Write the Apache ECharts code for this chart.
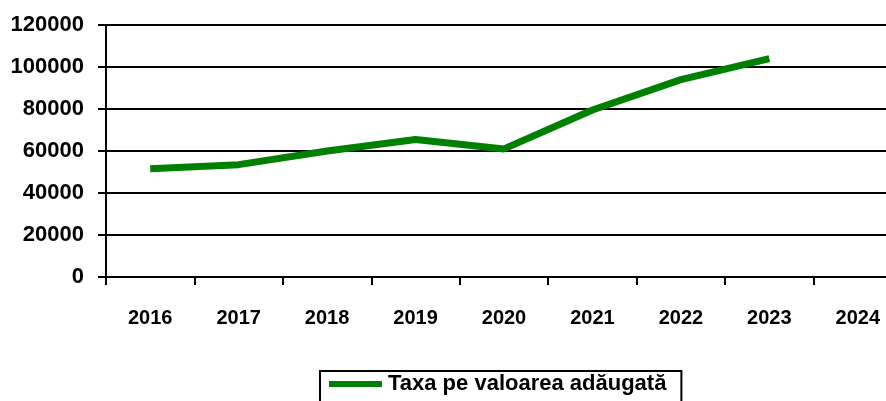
<!DOCTYPE html>
<html>
<head>
<meta charset="utf-8">
<script src="https://cdn.jsdelivr.net/npm/echarts@6/dist/echarts.min.js"></script>
<style>html,body{margin:0;padding:0;background:#fff;overflow:hidden;width:886px;height:401px;}#c{width:902px;height:401px;}</style>
</head>
<body>
<div id="c"></div>
<script>
var categories = ['2016','2017','2018','2019','2020','2021','2022','2023','2024'];
var seriesName = 'Taxa pe valoarea adăugată';
var tvaValues = [51500, 53500, 60000, 65500, 61000, 79500, 94000, 104000, null];
var yMin = 0, yMax = 120000, yStep = 20000;

var chart = echarts.init(document.getElementById('c'), null, {renderer: 'canvas'});
chart.setOption({
  animation: false,
  backgroundColor: '#fff',
  grid: {left: 106, top: 25, right: 0, bottom: 124, containLabel: false},
  xAxis: {
    type: 'category',
    data: categories,
    boundaryGap: true,
    axisLine: {lineStyle: {color: '#000', width: 2}},
    axisTick: {show: true, length: 8, lineStyle: {color: '#000', width: 2}},
    axisLabel: {color: '#000', fontFamily: 'Liberation Sans', fontWeight: 'bold', fontSize: 20, margin: 31, interval: 0}
  },
  yAxis: {
    type: 'value',
    min: yMin, max: yMax, interval: yStep,
    axisLine: {show: true, lineStyle: {color: '#000', width: 2}},
    axisTick: {show: true, length: 8, lineStyle: {color: '#000', width: 2}},
    splitLine: {show: true, lineStyle: {color: '#000', width: 2}},
    axisLabel: {color: '#000', fontFamily: 'Liberation Sans', fontWeight: 'bold', fontSize: 22, margin: 22,
      formatter: function (v) { return String(v); }}
  },
  legend: {
    show: true,
    left: 320, top: 371,
    padding: [2, 15, 20, 9],
    borderColor: '#000', borderWidth: 2,
    icon: 'rect', itemWidth: 53, itemHeight: 6, itemGap: 10,
    textStyle: {color: '#000', fontFamily: 'Liberation Sans', fontWeight: 'bold', fontSize: 22, padding: [0,0,0,1]},
    data: [seriesName]
  },
  series: [{
    name: seriesName,
    type: 'line',
    data: tvaValues,
    symbol: 'none',
    lineStyle: {color: '#008000', width: 7},
    itemStyle: {color: '#008000'}
  }]
});
</script>
</body>
</html>
